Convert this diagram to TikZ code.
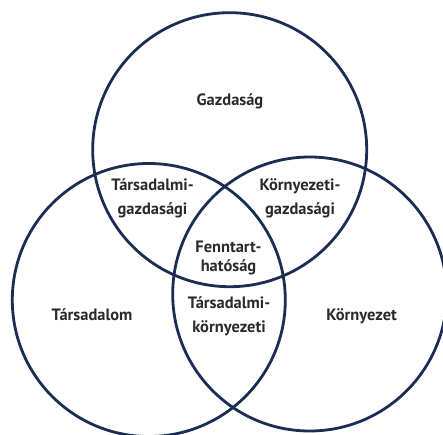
\documentclass[tikz,border=0pt]{standalone}
\usepackage{fontspec}
\setmainfont{PT Sans}
\definecolor{ring}{HTML}{1B2D52}
\definecolor{ink}{HTML}{2A2A2A}
\begin{document}
\begin{tikzpicture}[x=1bp,y=-1bp,
  ring/.style={draw=ring,line width=2.8bp},
  lbl/.style={text=ink,font=\bfseries\fontsize{16.5}{24}\selectfont,align=center,anchor=base,inner sep=0pt},
  tight/.style={font=\bfseries\fontsize{16.5}{18.5}\selectfont}]
\useasboundingbox (0,0) rectangle (443,435);
\clip (0,0) rectangle (443,435);
\node[ring,circle,minimum size=274bp,inner sep=0pt] (gaz) at (229.7,149.7) {};
\node[ring,circle,minimum size=273bp,inner sep=0pt] (tar) at (148.8,300) {};
\node[ring,circle,minimum size=274bp,inner sep=0pt] (kor) at (309.7,294) {};
\node[lbl] (lg) at (230,105.7) {Gazdaság};
\node[lbl] (ltg) at (152.5,214.5) {Társadalmi-\\gazdasági};
\node[lbl] (lkg) at (300,214.5) {Környezeti-\\gazdasági};
\node[lbl,tight] (lf) at (228.5,271.2) {Fenntart-\\hatóság};
\node[lbl] (ltk) at (229,332.5) {Társadalmi-\\környezeti};
\node[lbl] (lt) at (92,320.7) {Társadalom};
\node[lbl] (lk) at (361.7,320.7) {Környezet};
\end{tikzpicture}
\end{document}
